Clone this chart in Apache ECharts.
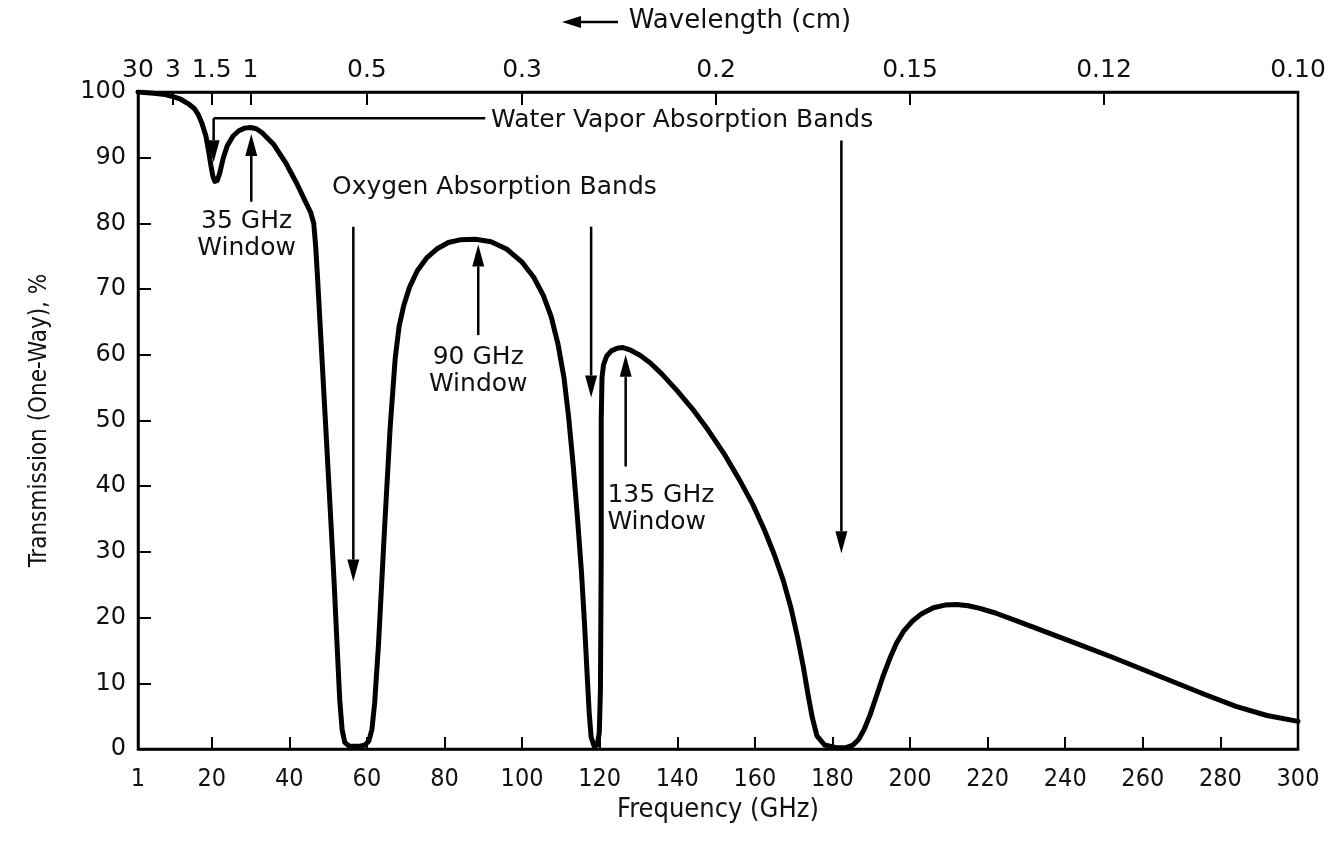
<!DOCTYPE html>
<html>
<head>
<meta charset="utf-8">
<script src="https://cdn.jsdelivr.net/npm/echarts@6/dist/echarts.min.js"></script>
<style>
  html, body { margin: 0; padding: 0; background: #fff; }
  #chart { width: 1330px; height: 847px; }
</style>
</head>
<body>
<div id="chart"></div>
<script>
// ---------------- data ----------------
// frequency (GHz) and one-way transmission (%)
const freq = [1, 5, 8, 10, 12, 14, 15.5, 16.5, 17.5, 18.5, 19.2, 19.8, 20.3, 20.8, 21.4, 22, 23, 24,
  25.5, 27, 28.5, 30, 31.5, 33, 36, 39, 42, 44, 45.5, 46.3, 46.8, 47.3, 48, 49.3, 50.5, 51.5, 52.3,
  53, 53.6, 54.3, 55.5, 58, 59.5, 60.5, 61.3, 62, 63, 64.5, 66, 67.3, 68.3, 69.5, 71, 73, 75.5, 78,
  81, 84, 88, 92, 96, 100, 103, 105.5, 107.5, 109.3, 110.8, 112, 113.2, 114.3, 115.3, 116.1, 116.8,
  117.3, 117.8, 118.6, 119.4, 119.9, 120.2, 120.4, 120.4, 120.6, 121, 121.8, 123, 124.5, 126, 128,
  130.5, 133, 136, 140, 144, 148, 152, 156, 159.5, 162.5, 165, 167.3, 169.3, 171, 172.5, 173.7,
  174.8, 176, 178, 181, 183.5, 185.3, 186.8, 188.2, 189.7, 191.3, 193, 194.8, 196.5, 198.3, 200.5,
  203, 206, 209, 212, 215, 218, 222, 228, 236, 244, 252, 260, 268, 276, 284, 292, 300]
const transmission = [100, 99.8, 99.6, 99.3, 98.9, 98.2, 97.5, 96.6, 95.2, 93.3, 91, 88.8, 87.2,
  86.4, 86.5, 87.5, 90, 91.8, 93.3, 94.1, 94.5, 94.6, 94.4, 93.8, 92, 89.3, 86, 83.5, 81.7, 80,
  76.5, 71.5, 64, 50, 37, 26, 16, 7.5, 3, 1, 0.4, 0.4, 0.6, 1.2, 3, 7, 16, 33, 49, 59.5, 64.3, 67.5,
  70.3, 72.8, 74.8, 76.1, 77.1, 77.5, 77.6, 77.2, 76.1, 74.1, 71.8, 69, 65.8, 61.5, 56.5, 50.5, 43,
  35, 27, 19, 11, 5.5, 1.8, 0.4, 0.6, 2.5, 9, 30, 50, 56.5, 58.5, 59.8, 60.6, 61, 61.1, 60.7, 59.9,
  58.8, 57.1, 54.5, 51.7, 48.5, 45, 41, 37.2, 33.3, 29.6, 25.7, 21.5, 17, 12.5, 8.3, 4.8, 2, 0.6,
  0.2, 0.2, 0.6, 1.5, 3, 5.2, 8, 11, 13.8, 16.1, 17.9, 19.4, 20.6, 21.5, 21.9, 22, 21.8, 21.4, 20.7,
  19.4, 17.6, 15.8, 14, 12.1, 10.2, 8.3, 6.5, 5.1, 4.2]

// bottom ticks (GHz)
const freqTicks = [1, 20, 40, 60, 80, 100, 120, 140, 160, 180, 200, 220, 240, 260, 280, 300]
// top ticks: wavelength (cm) placed at its frequency
const wlFreq = [1, 10, 20, 30, 60, 100, 150, 200, 250, 300]
const wlLabels = ['30', '3', '1.5', '1', '0.5', '0.3', '0.2', '0.15', '0.12', '0.10']

const pts = freq.map((f, i) => [f, transmission[i]])

const geo = "'DejaVu Sans', 'Lato', sans-serif"
const narrow = "'DejaVu Sans Condensed', 'Liberation Sans Narrow', 'DejaVu Sans', sans-serif"

let myChart = echarts.init(document.querySelector('#chart'))
let option = {
  animation: false,
  backgroundColor: '#fff',
  grid: {
    left: 138,
    right: 32,
    top: 92,
    bottom: 98,
    show: true,
    borderColor: '#000',
    borderWidth: 2.5
  },
  xAxis: [
    {
      type: 'value',
      position: 'bottom',
      min: 1,
      max: 300,
      name: 'Frequency (GHz)',
      nameLocation: 'middle',
      nameGap: 34,
      nameTextStyle: { fontFamily: narrow, fontSize: 27, color: '#111' },
      axisLine: { lineStyle: { color: '#000', width: 2.5 } },
      axisTick: { inside: true, length: 12, lineStyle: { color: '#000', width: 2 }, customValues: freqTicks },
      axisLabel: { customValues: freqTicks, margin: 18, fontFamily: narrow, fontSize: 25, color: '#111' },
      splitLine: { show: false }
    },
    {
      type: 'value',
      position: 'top',
      min: 1,
      max: 300,
      name: 'Wavelength (cm)',
      nameLocation: 'middle',
      nameGap: 58,
      nameTextStyle: { fontFamily: geo, fontSize: 26, color: '#111', padding: [0, 0, 0, 44] },
      axisLine: { lineStyle: { color: '#000', width: 2.5 } },
      axisTick: { inside: true, length: 13, lineStyle: { color: '#000', width: 2 }, customValues: wlFreq },
      axisLabel: {
        customValues: wlFreq,
        margin: 9,
        fontFamily: geo,
        fontSize: 25,
        color: '#111',
        formatter: v => wlLabels[wlFreq.indexOf(v)]
      },
      splitLine: { show: false }
    }
  ],
  yAxis: {
    type: 'value',
    min: 0,
    max: 100,
    interval: 10,
    name: 'Transmission (One-Way), %',
    nameLocation: 'middle',
    nameGap: 86,
    nameTextStyle: { fontFamily: narrow, fontSize: 24, color: '#111' },
    axisLine: { lineStyle: { color: '#000', width: 2.5 } },
    axisTick: { inside: true, length: 13, lineStyle: { color: '#000', width: 2 } },
    axisLabel: { margin: 12, fontFamily: geo, fontSize: 24, color: '#111' },
    splitLine: { show: false }
  },
  series: [
    {
      type: 'line',
      xAxisIndex: 0,
      data: pts,
      showSymbol: false,
      smooth: false,
      lineStyle: { color: '#000', width: 5, join: 'round', cap: 'round' }
    }
  ]
}
myChart.setOption(option)

//---------------annotations (data coords -> pixels)---------------
const px = p => myChart.convertToPixel({ seriesIndex: 0 }, p)

function arrow(from, to) {
  let a = px(from), b = px(to)
  let dx = b[0] - a[0], dy = b[1] - a[1]
  let len = Math.sqrt(dx * dx + dy * dy)
  let ux = dx / len, uy = dy / len
  let hl = 22, hw = 6
  let base = [b[0] - ux * hl, b[1] - uy * hl]
  return [
    { type: 'line', shape: { x1: a[0], y1: a[1], x2: base[0], y2: base[1] }, style: { stroke: '#000', lineWidth: 2.5 } },
    {
      type: 'polygon',
      shape: { points: [b, [base[0] - uy * hw, base[1] + ux * hw], [base[0] + uy * hw, base[1] - ux * hw]] },
      style: { fill: '#000' }
    }
  ]
}

function label(p, text, align) {
  let q = px(p)
  return {
    type: 'text', x: q[0], y: q[1],
    style: { text: text, align: align || 'center', verticalAlign: 'middle', fontFamily: geo, fontSize: 25, fill: '#111', lineHeight: 27 }
  }
}

let g = []
// water vapour bands
let wvStart = px([20.5, 96]), wvEnd = px([90.5, 96])
g.push({ type: 'line', shape: { x1: wvStart[0], y1: wvStart[1], x2: wvEnd[0], y2: wvEnd[1] }, style: { stroke: '#000', lineWidth: 2.5 } })
g.push(...arrow([20.5, 96], [20.5, 89.3]))
g.push(label([92, 95.6], 'Water Vapor Absorption Bands', 'left'))
g.push(...arrow([182.3, 92.6], [182.3, 29.8]))
// windows
g.push(label([29, 78.2], '35 GHz\nWindow'))
g.push(...arrow([30.2, 83.3], [30.2, 93.6]))
g.push(label([88.7, 57.5], '90 GHz\nWindow'))
g.push(...arrow([88.7, 63], [88.7, 76.8]))
g.push(label([122, 36.6], '135 GHz\nWindow', 'left'))
g.push(...arrow([126.7, 43], [126.7, 60]))
// oxygen bands
g.push(label([51, 85.4], 'Oxygen Absorption Bands', 'left'))
g.push(...arrow([56.5, 79.5], [56.5, 25.5]))
g.push(...arrow([117.8, 79.5], [117.8, 53.5]))
// arrow in front of the wavelength title
g.push({ type: 'line', shape: { x1: 578, y1: 22, x2: 618, y2: 22 }, style: { stroke: '#000', lineWidth: 2.5 } })
g.push({ type: 'polygon', shape: { points: [[562, 22], [581, 16], [581, 28]] }, style: { fill: '#000' } })

myChart.setOption({ graphic: g })
</script>
</body>
</html>
